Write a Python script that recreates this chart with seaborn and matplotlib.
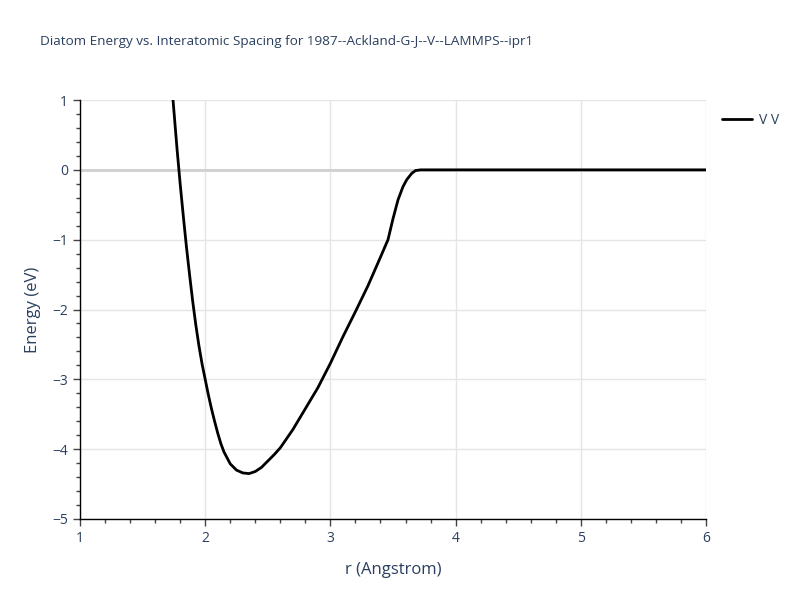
import numpy as np
import pandas as pd
import matplotlib
matplotlib.use("Agg")
import matplotlib.pyplot as plt
from matplotlib.ticker import MultipleLocator, FuncFormatter
import seaborn as sns

# values
r_values = [1.70, 1.743, 1.775, 1.80, 1.825, 1.85, 1.875, 1.90, 1.925, 1.95, 1.975,
            2.00, 2.025, 2.05, 2.075, 2.10, 2.125, 2.15, 2.20, 2.25, 2.30, 2.35, 2.40,
            2.45, 2.50, 2.55, 2.60, 2.70, 2.80, 2.90, 3.00, 3.10, 3.20, 3.30, 3.40,
            3.46, 3.50, 3.54, 3.58, 3.61, 3.65, 3.68, 3.72, 3.80, 4.00, 4.50, 5.00,
            5.50, 6.00]
energy_values = [1.65, 1.0, 0.3, -0.2, -0.66, -1.1, -1.5, -1.88, -2.22, -2.52, -2.78,
                 -3.0, -3.22, -3.42, -3.6, -3.77, -3.92, -4.04, -4.21, -4.30, -4.34, -4.35, -4.32,
                 -4.26, -4.17, -4.08, -3.98, -3.72, -3.42, -3.12, -2.77, -2.39, -2.03, -1.66, -1.25,
                 -1.0, -0.7, -0.43, -0.24, -0.14, -0.05, -0.01, 0.0, 0.0, 0.0, 0.0, 0.0,
                 0.0, 0.0]
series_label = "V V"

text_color = "#2a3f5f"

sns.set_theme(style="white")
plt.rcParams["font.family"] = ["Open Sans", "DejaVu Sans"]

df = pd.DataFrame({"r": r_values, "energy": energy_values, "pair": series_label})

fig = plt.figure(figsize=(8, 6), dpi=100)
ax = fig.add_axes([0.10, 0.135, 0.7825, 0.6983])

ax.set_xlim(1, 6)
ax.set_ylim(-5, 1)

ax.grid(True, color="#e5e5e5", linewidth=1)
ax.set_axisbelow(True)
ax.axhline(0, color="#d0d0d0", linewidth=2, zorder=1)

sns.lineplot(data=df, x="r", y="energy", hue="pair", palette=["black"],
             linewidth=2, ax=ax, sort=False, zorder=3)

for side in ["top", "right"]:
    ax.spines[side].set_visible(False)
for side in ["left", "bottom"]:
    ax.spines[side].set_color("black")
    ax.spines[side].set_linewidth(1)

ax.xaxis.set_major_locator(MultipleLocator(1))
ax.xaxis.set_minor_locator(MultipleLocator(0.2))
ax.yaxis.set_major_locator(MultipleLocator(1))
ax.yaxis.set_minor_locator(MultipleLocator(0.2))
ax.tick_params(which="major", direction="out", length=5, width=1, color="#444444",
               labelcolor=text_color, labelsize=10, bottom=True, left=True)
ax.tick_params(which="minor", direction="out", length=3, width=1, color="#444444",
               bottom=True, left=True)
ax.grid(False, which="minor")
ax.yaxis.set_major_formatter(FuncFormatter(
    lambda v, p: f"{int(round(v))}".replace("-", "\u2212")))

ax.set_xlabel("r (Angstrom)", color=text_color, fontsize=12, labelpad=12)
ax.set_ylabel("Energy (eV)", color=text_color, fontsize=12, labelpad=8)

fig.text(0.05, 0.925, "Diatom Energy vs. Interatomic Spacing for 1987--Ackland-G-J--V--LAMMPS--ipr1",
         color=text_color, fontsize=9.7)

leg = ax.legend(loc="upper left", bbox_to_anchor=(1.005, 1.0), frameon=False,
                fontsize=10, handlelength=2.2, handletextpad=0.5, labelcolor=text_color)
for line in leg.get_lines():
    line.set_linewidth(2)

fig.savefig("out.png", dpi=100, facecolor="white")
